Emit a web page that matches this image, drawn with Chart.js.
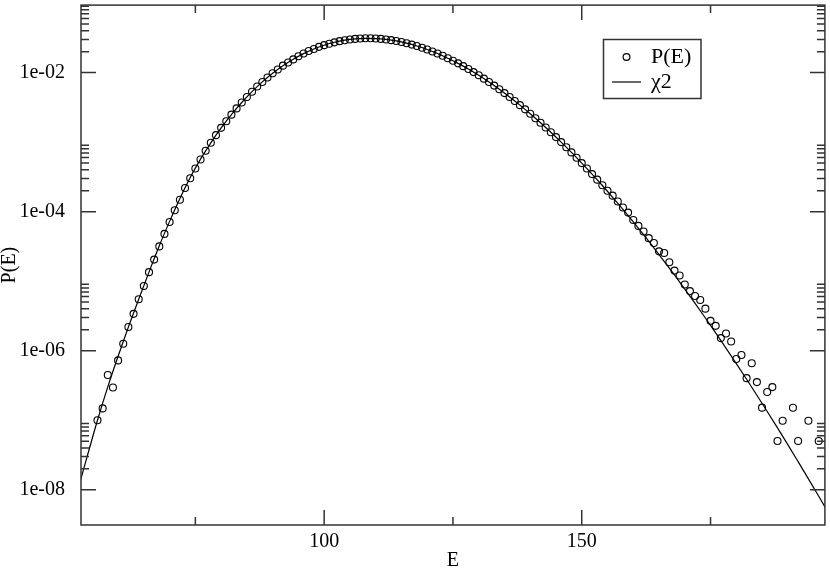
<!DOCTYPE html>
<html>
<head>
<meta charset="utf-8">
<script src="https://cdn.jsdelivr.net/npm/chart.js@4.4.1/dist/chart.umd.min.js"></script>
<style>
	html, body { margin: 0; padding: 0; background: #fff; }
	canvas { display: block; }
</style>
</head>
<body>
<canvas id="chart" width="830" height="570"></canvas>
<script>
// Данные: энергия E и log10 P(E)
const energy = [
	56, 57, 58, 59, 60, 61, 62, 63, 64, 65, 66, 67, 68, 69, 70, 71, 72, 73, 74, 75,
	76, 77, 78, 79, 80, 81, 82, 83, 84, 85, 86, 87, 88, 89, 90, 91, 92, 93, 94, 95,
	96, 97, 98, 99, 100, 101, 102, 103, 104, 105, 106, 107, 108, 109, 110, 111, 112, 113, 114, 115,
	116, 117, 118, 119, 120, 121, 122, 123, 124, 125, 126, 127, 128, 129, 130, 131, 132, 133, 134, 135,
	136, 137, 138, 139, 140, 141, 142, 143, 144, 145, 146, 147, 148, 149, 150, 151, 152, 153, 154, 155,
	156, 157, 158, 159, 160, 161, 162, 163, 164, 165, 166, 167, 168, 169, 170, 171, 172, 173, 174, 175,
	176, 177, 178, 179, 180, 181, 182, 183, 184, 185, 186, 187, 188, 189, 191, 192, 194, 196
];
const logP = [
	-7.00, -6.83, -6.35, -6.53, -6.14, -5.90, -5.66, -5.47, -5.26, -5.07, -4.87, -4.69, -4.50, -4.32, -4.15, -3.98, -3.83, -3.66, -3.52, -3.38,
	-3.25, -3.125, -3.01, -2.90, -2.795, -2.70, -2.605, -2.515, -2.43, -2.35, -2.275, -2.20, -2.135, -2.07, -2.01, -1.955, -1.90, -1.855, -1.81, -1.765,
	-1.725, -1.69, -1.66, -1.63, -1.605, -1.585, -1.565, -1.548, -1.535, -1.523, -1.515, -1.51, -1.507, -1.507, -1.51, -1.515, -1.523, -1.533, -1.545, -1.56,
	-1.577, -1.597, -1.618, -1.642, -1.668, -1.696, -1.726, -1.758, -1.793, -1.83, -1.867, -1.907, -1.949, -1.993, -2.039, -2.087, -2.136, -2.187, -2.24, -2.295,
	-2.351, -2.409, -2.468, -2.529, -2.592, -2.656, -2.722, -2.79, -2.858, -2.928, -3.00, -3.073, -3.148, -3.224, -3.302, -3.38, -3.46, -3.54, -3.62, -3.70,
	-3.77, -3.855, -3.94, -4.014, -4.12, -4.205, -4.286, -4.381, -4.452, -4.571, -4.595, -4.729, -4.848, -4.919, -5.048, -5.143, -5.214, -5.271, -5.395, -5.571,
	-5.643, -5.819, -5.752, -5.867, -6.119, -6.062, -6.395, -6.181, -6.452, -6.819, -6.595, -6.524, -7.30, -7.007, -6.82, -7.30, -7.007, -7.30
];

const fitEnergy = [
	52, 54, 56, 58, 60, 62, 64, 66, 68, 70, 72, 74, 76, 78, 80, 82, 84, 86, 88, 90,
	92, 94, 96, 98, 100, 102, 104, 106, 108, 110, 112, 114, 116, 118, 120, 122, 124, 126, 128, 130,
	132, 134, 136, 138, 140, 142, 144, 146, 148, 150, 152, 154, 156, 158, 160, 162, 164, 166, 168, 170,
	172, 174, 176, 178, 180, 182, 184, 186, 188, 190, 192, 194, 196, 198
];
const fitLogP = [
	-8.05, -7.52, -7.00, -6.52, -6.08, -5.66, -5.26, -4.87, -4.49, -4.14, -3.81, -3.51, -3.245, -3.01, -2.795, -2.604, -2.430, -2.274, -2.134, -2.010,
	-1.902, -1.808, -1.727, -1.660, -1.606, -1.564, -1.534, -1.515, -1.507, -1.510, -1.523, -1.545, -1.577, -1.618, -1.668, -1.726, -1.793, -1.867, -1.949, -2.039,
	-2.136, -2.240, -2.351, -2.468, -2.592, -2.722, -2.858, -3.000, -3.148, -3.302, -3.460, -3.624, -3.794, -3.968, -4.147, -4.332, -4.520, -4.714, -4.911, -5.113,
	-5.319, -5.530, -5.744, -5.963, -6.185, -6.411, -6.641, -6.874, -7.111, -7.351, -7.596, -7.843, -8.093, -8.347
];

// Деления осей
const xMajorTicks = [100, 150];
const xMinorTicks = [75, 125, 175];
const yMajorTicks = [1e-8, 1e-6, 1e-4, 1e-2];
const yMinorFactors = [2, 3, 4, 5, 6, 7, 8, 9];

const X_MIN = 52.8, X_MAX = 197.2;
const Y_MIN = 3.11e-9, Y_MAX = 0.0935;

const serif = '"Liberation Serif", "Times New Roman", serif';
const ink = '#000';
const frameColor = '#333';

// Формат подписей 1e-02
function formatExp(v) {
	const exp = Math.round(Math.log10(v));
	return '1e' + (exp < 0 ? '-' : '+') + String(Math.abs(exp)).padStart(2, '0');
}

// Рамка и внутренние засечки с обеих сторон
const frameTicksPlugin = {
	id: 'frameTicks',
	afterDraw(chart) {
		const { ctx, chartArea: a, scales: { x, y } } = chart;
		ctx.save();
		ctx.strokeStyle = frameColor;
		ctx.lineWidth = 1.5;
		ctx.beginPath();
		const tick = (x1, y1, x2, y2) => { ctx.moveTo(x1, y1); ctx.lineTo(x2, y2); };
		xMajorTicks.forEach(v => {
			const px = x.getPixelForValue(v);
			tick(px, a.bottom, px, a.bottom - 15);
			tick(px, a.top, px, a.top + 15);
		});
		xMinorTicks.forEach(v => {
			const px = x.getPixelForValue(v);
			tick(px, a.bottom, px, a.bottom - 8);
			tick(px, a.top, px, a.top + 8);
		});
		yMajorTicks.forEach(v => {
			const py = y.getPixelForValue(v);
			tick(a.left, py, a.left + 15, py);
			tick(a.right, py, a.right - 15, py);
			yMinorFactors.forEach(k => {
				const val = v * k;
				if (val > Y_MAX) return;
				const pm = y.getPixelForValue(val);
				tick(a.left, pm, a.left + 8, pm);
				tick(a.right, pm, a.right - 8, pm);
			});
		});
		ctx.stroke();
		ctx.strokeRect(a.left, a.top, a.right - a.left, a.bottom - a.top);
		ctx.restore();
	}
};

// Легенда в рамке
const boxLegendPlugin = {
	id: 'boxLegend',
	afterDraw(chart) {
		const { ctx } = chart;
		ctx.save();
		ctx.strokeStyle = frameColor;
		ctx.lineWidth = 1.5;
		ctx.strokeRect(603.5, 39.5, 97.5, 59);

		ctx.strokeStyle = ink;
		ctx.lineWidth = 1.2;
		ctx.beginPath();
		ctx.arc(626.5, 57, 3.4, 0, Math.PI * 2);
		ctx.stroke();

		ctx.beginPath();
		ctx.moveTo(612, 82);
		ctx.lineTo(641, 82);
		ctx.stroke();

		ctx.fillStyle = ink;
		ctx.font = '22px ' + serif;
		ctx.textAlign = 'left';
		ctx.textBaseline = 'middle';
		ctx.fillText('P(E)', 651, 57);
		ctx.fillText('\u03C72', 651, 82);
		ctx.restore();
	}
};

const chart = new Chart(document.getElementById('chart'), {
	type: 'scatter',
	data: {
		datasets: [
			{
				label: 'P(E)',
				data: energy.map((e, i) => ({ x: e, y: Math.pow(10, logP[i]) })),
				showLine: false,
				pointStyle: 'circle',
				pointRadius: 3.5,
				pointBorderWidth: 1.1,
				pointBorderColor: ink,
				pointBackgroundColor: 'rgba(0,0,0,0)'
			},
			{
				label: '\u03C72',
				data: fitEnergy.map((e, i) => ({ x: e, y: Math.pow(10, fitLogP[i]) })),
				showLine: true,
				borderColor: ink,
				borderWidth: 1.2,
				pointRadius: 0,
				cubicInterpolationMode: 'monotone',
				clip: 0
			}
		]
	},
	options: {
		responsive: false,
		animation: false,
		layout: { padding: { left: 0, right: 2, top: 2, bottom: 0 } },
		plugins: {
			legend: { display: false },
			tooltip: { enabled: false }
		},
		scales: {
			x: {
				type: 'linear',
				min: X_MIN,
				max: X_MAX,
				grid: { display: false },
				border: { display: false },
				afterBuildTicks: scale => {
					scale.ticks = xMajorTicks.map(v => ({ value: v }));
				},
				afterFit: scale => {
					scale.height = 45;
					scale.paddingLeft = 0;
					scale.paddingRight = 0;
				},
				ticks: {
					color: ink,
					padding: -3,
					maxRotation: 0,
					font: { family: serif, size: 20 },
					callback: v => String(v)
				},
				title: {
					display: true,
					text: 'E',
					color: ink,
					font: { family: serif, size: 20, lineHeight: 1 },
					padding: { top: 0, bottom: -1 }
				}
			},
			y: {
				type: 'logarithmic',
				min: Y_MIN,
				max: Y_MAX,
				grid: { display: false },
				border: { display: false },
				afterBuildTicks: scale => {
					scale.ticks = yMajorTicks.map(v => ({ value: v }));
				},
				afterFit: scale => {
					scale.width = 81;
					scale.paddingTop = 0;
					scale.paddingBottom = 0;
				},
				ticks: {
					color: ink,
					padding: 8,
					font: { family: serif, size: 20 },
					callback: v => formatExp(v)
				},
				title: {
					display: true,
					text: 'P(E)',
					color: ink,
					font: { family: serif, size: 20, lineHeight: 1 },
					padding: { top: 0, bottom: 0 }
				}
			}
		}
	},
	plugins: [frameTicksPlugin, boxLegendPlugin]
});
</script>
</body>
</html>
